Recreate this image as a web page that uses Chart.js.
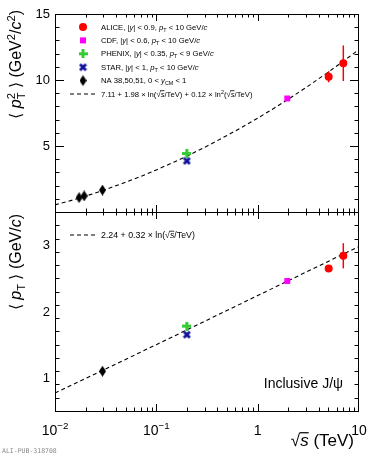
<!DOCTYPE html>
<html>
<head>
<meta charset="utf-8">
<script src="https://cdn.jsdelivr.net/npm/chart.js@4.4.1/dist/chart.umd.min.js"></script>
<style>
  body { margin: 0; background: #fff; }
  #wrap { position: relative; width: 374px; height: 456px; }
  canvas { position: absolute; left: 0; top: 0; }
</style>
</head>
<body>
<div id="wrap">
  <canvas id="top-chart" width="374" height="456"></canvas>
  <canvas id="bottom-chart" width="374" height="456"></canvas>
</div>
<script>
// sqrt(s) in TeV
const aliceX = [5.02, 7];
const cdfX = [1.96];
const phenixX = [0.2];
const starX = [0.2];
const naTopX = [0.0173, 0.0194, 0.0294];
const naBottomX = [0.0294];

// <pT^2> (GeV^2/c^2)
const aliceP2 = [10.25, 11.27];
const aliceP2Err = [0.42, 1.35];
const cdfP2 = [8.6];
const phenixP2 = [4.43];
const starP2 = [3.87];
const naP2 = [1.09, 1.22, 1.66];

// <pT> (GeV/c)
const alicePt = [2.65, 2.84];
const alicePtErr = [0.03, 0.19];
const cdfPt = [2.46];
const phenixPt = [1.78];
const starPt = [1.65];
const naPt = [1.10];

// fit curves
const fitX = [0.01, 0.015, 0.02, 0.03, 0.05, 0.07, 0.1, 0.15, 0.2, 0.3, 0.5, 0.7, 1, 1.5, 2, 3, 5, 7, 10];
const fitP2 = [0.54, 0.91, 1.2, 1.64, 2.26, 2.69, 3.19, 3.79, 4.23, 4.9, 5.8, 6.42, 7.11, 7.93, 8.54, 9.43, 10.61, 11.42, 12.31];
const fitPtX = [0.01, 0.1, 1, 10];
const fitPt = [0.77, 1.5, 2.24, 2.98];

const topYTicks = [5, 10, 15];
const bottomYTicks = [1, 2, 3];
const xTickLabels = [["10", "\u22122"], ["10", "\u22121"], ["1", ""], ["10", ""]];
const xTickValues = [0.01, 0.1, 1, 10];

const FONT = "'Liberation Sans', Arial, Helvetica, sans-serif";

function pts(xs, ys) {
  return xs.map((x, i) => ({ x: x, y: ys[i] }));
}

function marker(w, h, draw) {
  const c = document.createElement("canvas");
  c.width = w;
  c.height = h;
  draw(c.getContext("2d"));
  return c;
}
const diamond = marker(7, 11, (g) => {
  g.fillStyle = "#000";
  g.beginPath();
  g.moveTo(3.5, 0);
  g.lineTo(7, 5.5);
  g.lineTo(3.5, 11);
  g.lineTo(0, 5.5);
  g.closePath();
  g.fill();
});
const plus = marker(9, 9, (g) => {
  g.fillStyle = "#33cc33";
  g.fillRect(3, 0, 3, 9);
  g.fillRect(0, 3, 9, 3);
});
const cross = marker(9, 9, (g) => {
  g.strokeStyle = "#10109a";
  g.lineWidth = 2.8;
  g.beginPath();
  g.moveTo(1.5, 1.5);
  g.lineTo(7.5, 7.5);
  g.moveTo(7.5, 1.5);
  g.lineTo(1.5, 7.5);
  g.stroke();
});

// runs: [text, flags]  i italic, p sup, b sub, k keep x, o overline
function drawRich(ctx, runs, x, y, size, align) {
  const parts = runs.map(([t, f = ""]) => {
    const small = f.includes("p") || f.includes("b");
    const s = small ? size * 0.7 : size;
    const font = (f.includes("i") ? "italic " : "") + s + "px " + FONT;
    ctx.font = font;
    return { t, f, s, font, w: ctx.measureText(t).width };
  });
  let total = 0;
  parts.forEach((p) => { if (!p.f.includes("k")) total += p.w; });
  let cx = align === "right" ? x - total : align === "center" ? x - total / 2 : x;
  ctx.textAlign = "left";
  ctx.textBaseline = "alphabetic";
  parts.forEach((p) => {
    ctx.font = p.font;
    let dy = 0;
    if (p.f.includes("p")) dy = -0.4 * size;
    if (p.f.includes("b")) dy = 0.25 * size;
    ctx.fillText(p.t, cx, y + dy);
    if (p.f.includes("o")) {
      ctx.save();
      ctx.lineWidth = Math.max(0.8, size / 14);
      ctx.beginPath();
      ctx.moveTo(cx - 0.5, y - size * 0.78);
      ctx.lineTo(cx + p.w, y - size * 0.78);
      ctx.stroke();
      ctx.restore();
    }
    if (!p.f.includes("k")) cx += p.w;
  });
}

const sqrtS = [["\u221A"], ["s", "io"]];
const topLegend = [
  { m: "circle", text: [["ALICE, |"], ["y", "i"], ["| < 0.9, "], ["p", "i"], ["T", "b"], [" < 10 GeV/"], ["c", "i"]] },
  { m: "square", text: [["CDF, |"], ["y", "i"], ["| < 0.6, "], ["p", "i"], ["T", "b"], [" < 10 GeV/"], ["c", "i"]] },
  { m: plus, text: [["PHENIX, |"], ["y", "i"], ["| < 0.35, "], ["p", "i"], ["T", "b"], [" < 9 GeV/"], ["c", "i"]] },
  { m: cross, text: [["STAR, |"], ["y", "i"], ["| < 1, "], ["p", "i"], ["T", "b"], [" < 10 GeV/"], ["c", "i"]] },
  { m: diamond, text: [["NA 38,50,51, 0 < "], ["y", "i"], ["CM", "b"], [" < 1"]] },
  { m: "dash", text: [["7.11 + 1.98 \u00D7 ln("]].concat(sqrtS, [["/TeV) + 0.12 \u00D7 ln"], ["2", "p"], ["("]], sqrtS, [["/TeV)"]]) },
];
const bottomLegend = [
  { m: "dash", text: [["2.24 + 0.32 \u00D7 ln("]].concat(sqrtS, [["/TeV)"]]) },
];

function drawLegendMarker(ctx, m, x, y) {
  ctx.save();
  if (m === "circle") {
    ctx.fillStyle = "#ff0000";
    ctx.beginPath();
    ctx.arc(x, y, 4, 0, Math.PI * 2);
    ctx.fill();
  } else if (m === "square") {
    ctx.fillStyle = "#ff00ff";
    ctx.fillRect(x - 3, y - 3, 6, 6);
  } else if (m === "dash") {
    ctx.setLineDash([4, 3]);
    ctx.lineWidth = 1.1;
    ctx.beginPath();
    ctx.moveTo(70, y);
    ctx.lineTo(95, y);
    ctx.stroke();
  } else {
    ctx.drawImage(m, x - m.width / 2, y - m.height / 2);
  }
  ctx.restore();
}

function framePlugin(o) {
  return {
    id: "frame" + o.name,
    afterDraw(chart) {
      const ctx = chart.ctx;
      const a = chart.chartArea;
      const xs = chart.scales.x;
      const ys = chart.scales.y;
      ctx.save();
      ctx.strokeStyle = "#000";
      ctx.fillStyle = "#000";
      ctx.lineWidth = 1;
      ctx.strokeRect(a.left + 0.5, a.top + 0.5, a.right - a.left - 1, a.bottom - a.top);
      ctx.beginPath();
      for (let d = -2; d < 1; d++) {
        for (let m = 1; m <= 9; m++) {
          const px = Math.round(xs.getPixelForValue(m * Math.pow(10, d))) + 0.5;
          const len = m === 1 ? 7 : 3.5;
          ctx.moveTo(px, a.bottom);
          ctx.lineTo(px, a.bottom - len);
          ctx.moveTo(px, a.top);
          ctx.lineTo(px, a.top + len);
        }
      }
      for (let v = o.min; v <= o.max + 1e-9; v += o.minor) {
        const py = Math.round(ys.getPixelForValue(v)) + 0.5;
        const major = o.ticks.some((t) => Math.abs(t - v) < 1e-6);
        const len = major ? 9 : 4.5;
        ctx.moveTo(a.left, py);
        ctx.lineTo(a.left + len, py);
        ctx.moveTo(a.right, py);
        ctx.lineTo(a.right - len, py);
      }
      ctx.stroke();

      ctx.font = "13px " + FONT;
      ctx.textAlign = "right";
      ctx.textBaseline = "middle";
      o.ticks.forEach((t) => {
        ctx.fillText(String(t), 50, ys.getPixelForValue(t) + 0.5);
      });

      // y title, rotated
      ctx.save();
      ctx.translate(21, o.titleTop);
      ctx.rotate(-Math.PI / 2);
      drawRich(ctx, o.title, 0, 0, 16, "right");
      ctx.restore();

      o.legend.forEach((row, i) => {
        const ry = o.legendY + i * 13.4;
        drawLegendMarker(ctx, row.m, 83, ry);
        drawRich(ctx, row.text, 101, ry + o.legendSize * 0.35, o.legendSize, "left");
      });

      if (o.xLabels) {
        xTickValues.forEach((v, i) => {
          const [base, exp] = xTickLabels[i];
          const runs = exp ? [[base], [exp, "p"]] : [[base]];
          drawRich(ctx, runs, xs.getPixelForValue(v), 435, 14, "center");
        });
        drawRich(ctx, sqrtS.concat([[" (TeV)"]]), 354, 446, 17, "right");
        drawRich(ctx, [["Inclusive J/\u03C8"]], 343, 388, 14, "right");
        ctx.font = "6.5px 'DejaVu Sans Mono', monospace";
        ctx.fillStyle = "#888";
        ctx.textAlign = "left";
        ctx.textBaseline = "alphabetic";
        ctx.fillText("ALI-PUB-318708", 2, 453);
      }
      ctx.restore();
    },
  };
}

function markerSets(xs, al, alErr, cdf, phx, star, na, naX, fitXs, fitYs) {
  const errs = aliceX.map((x, i) => ({
    data: [{ x: x, y: al[i] - alErr[i] }, { x: x, y: al[i] + alErr[i] }],
    showLine: true,
    borderColor: "#ff0000",
    borderWidth: 1.5,
    pointRadius: 0,
  }));
  return [
    { data: pts(aliceX, al), pointStyle: "circle", pointRadius: 4, backgroundColor: "#ff0000", borderColor: "#ff0000", borderWidth: 0 },
    { data: pts(cdfX, cdf), pointStyle: "rect", pointRadius: 4.2, backgroundColor: "#ff00ff", borderColor: "#ff00ff", borderWidth: 0 },
    { data: pts(phenixX, phx), pointStyle: plus, pointRadius: 4 },
    { data: pts(starX, star), pointStyle: cross, pointRadius: 4 },
    { data: pts(naX, na), pointStyle: diamond, pointRadius: 4 },
  ].concat(errs, [
    {
      data: pts(fitXs, fitYs),
      showLine: true,
      borderColor: "#000",
      borderWidth: 1.1,
      borderDash: [4, 3],
      pointRadius: 0,
    },
  ]);
}

function makeChart(id, datasets, yMin, yMax, padding, frame) {
  new Chart(document.getElementById(id), {
    type: "scatter",
    data: { datasets: datasets },
    options: {
      responsive: false,
      animation: false,
      layout: { padding: padding },
      plugins: { legend: { display: false }, tooltip: { enabled: false } },
      scales: {
        x: { type: "logarithmic", min: 0.01, max: 10, display: false },
        y: { type: "linear", min: yMin, max: yMax, display: false },
      },
    },
    plugins: [framePlugin(frame)],
  });
}

makeChart(
  "top-chart",
  markerSets(aliceX, aliceP2, aliceP2Err, cdfP2, phenixP2, starP2, naP2, naTopX, fitX, fitP2),
  0, 15,
  { left: 55, right: 15, top: 14, bottom: 244 },
  {
    name: "top", min: 0, max: 15, minor: 1, ticks: topYTicks, titleTop: 10,
    title: [["\u27E8 "], ["p", "i"], ["2", "pk"], ["T", "b"], [" \u27E9 (GeV"], ["2", "p"], ["/"], ["c", "i"], ["2", "p"], [")"]],
    legend: topLegend, legendY: 27, legendSize: 7.7, xLabels: false,
  }
);
makeChart(
  "bottom-chart",
  markerSets(aliceX, alicePt, alicePtErr, cdfPt, phenixPt, starPt, naPt, naBottomX, fitPtX, fitPt),
  0.5, 3.5,
  { left: 55, right: 15, top: 212, bottom: 45 },
  {
    name: "bottom", min: 0.5, max: 3.5, minor: 0.2, ticks: bottomYTicks, titleTop: 214,
    title: [["\u27E8 "], ["p", "i"], ["T", "b"], [" \u27E9 (GeV/"], ["c", "i"], [")"]],
    legend: bottomLegend, legendY: 235, legendSize: 8.8, xLabels: true,
  }
);
</script>
</body>
</html>
